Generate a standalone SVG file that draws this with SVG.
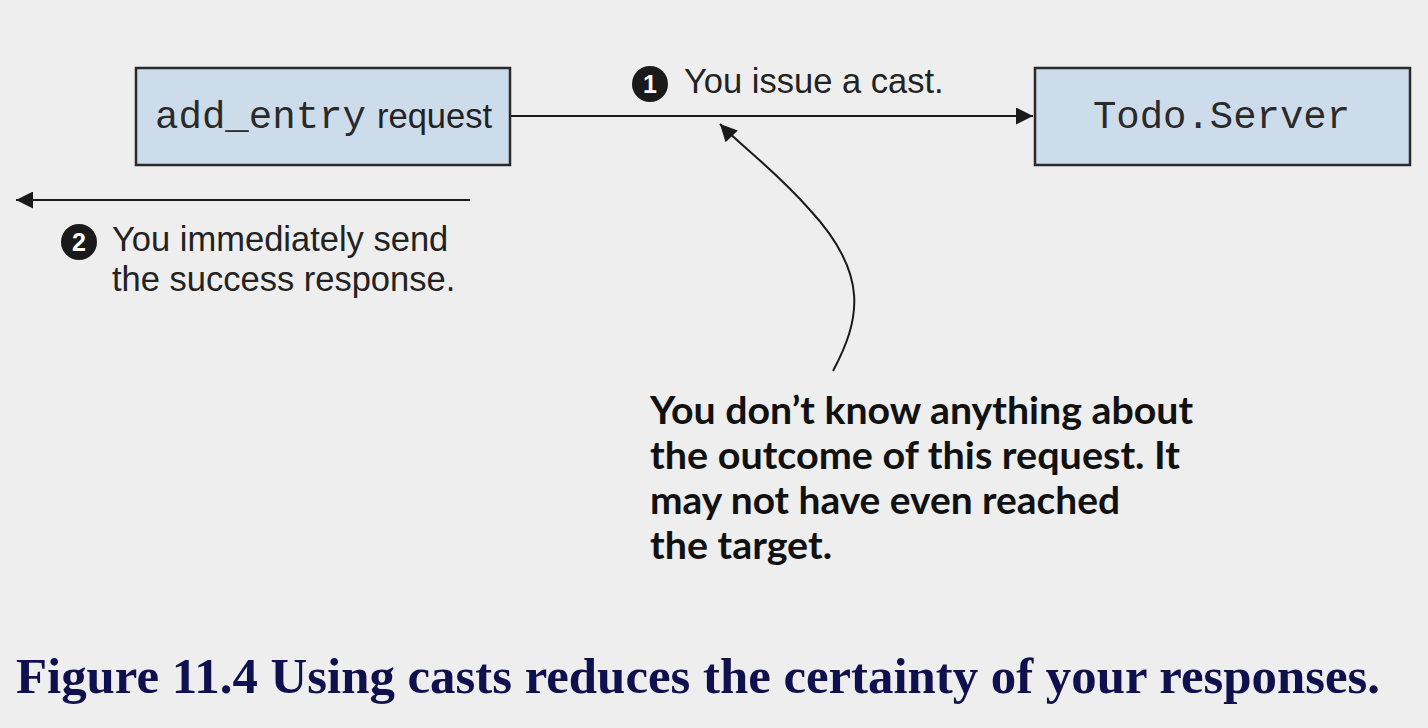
<svg xmlns="http://www.w3.org/2000/svg" width="1428" height="728" viewBox="0 0 1428 728">
<defs>
<style>
.box{fill:#cddceb;stroke:#2a2a2a;stroke-width:2.5}
.mono{font-family:"Liberation Mono","Courier New",monospace;font-size:38px;fill:#2a2a2a}
.sans{font-family:"Liberation Sans",Arial,sans-serif;font-size:34.5px;fill:#222}
.num{font-family:"Liberation Sans",Arial,sans-serif;font-size:25px;font-weight:bold;fill:#fff}
.call{font-family:Lato,"Open Sans",sans-serif;font-size:38px;font-weight:bold;fill:#111}
.cap{font-family:"Liberation Serif","Times New Roman",serif;font-size:50px;font-weight:bold;fill:#10104f}
.line{stroke:#1a1a1a;stroke-width:2;fill:none}
</style>
<marker id="ah2" viewBox="0 0 10 10" refX="10" refY="5" markerWidth="24" markerHeight="17" markerUnits="userSpaceOnUse" orient="auto"><path d="M0,0L10,5L0,10z" fill="#1a1a1a"/></marker>
</defs>
<rect width="1428" height="728" fill="#eeeeee"/>
<g id="node-add-entry">
<rect class="box" x="136" y="68" width="374" height="97"/>
<text class="mono" x="155" y="128" textLength="211" lengthAdjust="spacingAndGlyphs">add_entry</text>
<text class="sans" x="377" y="128">request</text>
</g>
<g id="node-todo-server">
<rect class="box" x="1035" y="68" width="375" height="97"/>
<text class="mono" x="1093" y="128" textLength="257" lengthAdjust="spacingAndGlyphs">Todo.Server</text>
</g>
<g id="connectors">
<line class="line" x1="511" y1="116" x2="1033" y2="116" marker-end="url(#ah2)"/>
<line class="line" x1="470" y1="200" x2="16" y2="200" marker-end="url(#ah2)"/>
<path class="line" stroke-width="1.5" d="M833,371 C860,320 870,275 810,210 C775,170 740,145 720,124" marker-end="url(#ah2)"/>
</g>
<g id="label-1">
<circle cx="650" cy="84" r="18" fill="#1a1a1a"/>
<text class="num" x="650" y="93" text-anchor="middle">1</text>
<text class="sans" x="684" y="93">You issue a cast.</text>
</g>
<g id="label-2">
<circle cx="79" cy="242" r="18" fill="#1a1a1a"/>
<text class="num" x="79" y="251" text-anchor="middle">2</text>
<text class="sans" x="112" y="251">You immediately send</text>
<text class="sans" x="112" y="291">the success response.</text>
</g>
<g id="callout">
<text class="call" x="650" y="424" textLength="543" lengthAdjust="spacingAndGlyphs">You don’t know anything about</text>
<text class="call" x="650" y="469" textLength="530" lengthAdjust="spacingAndGlyphs">the outcome of this request. It</text>
<text class="call" x="650" y="514" textLength="470" lengthAdjust="spacingAndGlyphs">may not have even reached</text>
<text class="call" x="650" y="559" textLength="182" lengthAdjust="spacingAndGlyphs">the target.</text>
</g>
<text class="cap" x="16" y="693" textLength="1364" lengthAdjust="spacingAndGlyphs">Figure 11.4 Using casts reduces the certainty of your responses.</text>
</svg>
